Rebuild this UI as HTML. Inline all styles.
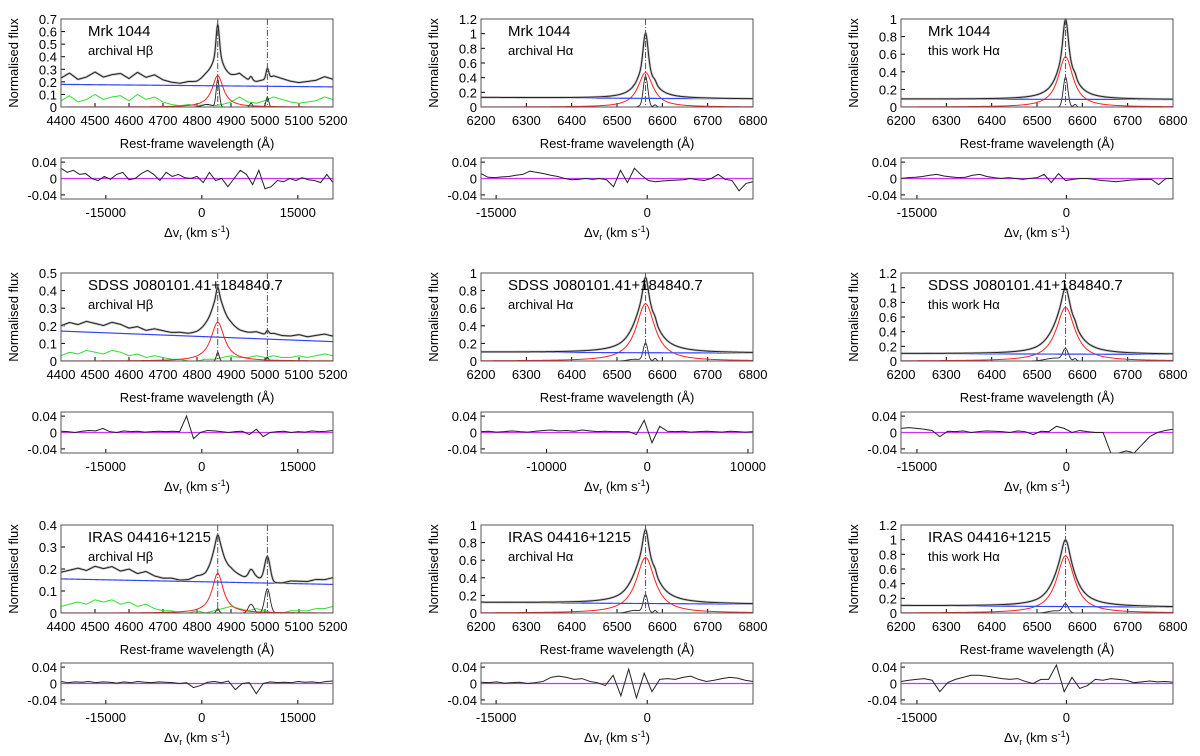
<!DOCTYPE html>
<html><head><meta charset="utf-8"><style>
body{margin:0;background:#fff;}
svg{display:block;font-family:"Liberation Sans",Arial,sans-serif;}
</style></head><body>
<svg id="fig" width="1200" height="756" viewBox="0 0 1200 756" xmlns="http://www.w3.org/2000/svg"></svg>
<script>
// ---------- data ----------
const objectNames = ["Mrk 1044","SDSS J080101.41+184840.7","IRAS 04416+1215"];
const subtitles = [["archival Hβ","archival Hα","this work Hα"],["archival Hβ","archival Hα","this work Hα"],["archival Hβ","archival Hα","this work Hα"]];
const yMaxes = [[0.7,1.2,1.0],[0.5,1.0,1.2],[0.4,1.0,1.2]];
const hbTicks = [4400,4500,4600,4700,4800,4900,5000,5100,5200];
const haTicks = [6200,6300,6400,6500,6600,6700,6800];
// continuum [start,end]
const continua = [[[0.18,0.16],[0.13,0.11],[0.09,0.085]],[[0.17,0.11],[0.10,0.09],[0.10,0.09]],[[0.155,0.13],[0.12,0.10],[0.10,0.08]]];
// broad component [center, amplitude, half-width]
const broadComps = [[[4861,0.25,20],[6563,0.47,20],[6563,0.57,20]],[[4861,0.22,24],[6563,0.65,25],[6563,0.73,25]],[[4861,0.18,20],[6563,0.63,25],[6563,0.78,24]]];
// narrow components [center, amplitude, sigma]
const narrowComps = [
 [[[4861,0.22,4.5],[5007,0.08,4],[4959,0.03,4],[4830,0.02,15]],[[6563,0.42,5],[6584,0.03,3],[6548,0.01,3]],[[6563,0.34,5],[6584,0.03,3]]],
 [[[4861,0.05,4],[5007,0.02,4]],[[6563,0.2,5],[6584,0.03,3],[6540,0.02,15]],[[6563,0.15,6],[6584,0.03,3],[6540,0.04,20]]],
 [[[4861,0.02,4],[5007,0.11,8],[4959,0.04,8]],[[6563,0.2,5],[6584,0.03,3],[6540,0.03,15]],[[6563,0.12,6],[6540,0.03,15]]]
];
const feRows = [
 [0.05,0.09,0.04,0.06,0.1,0.06,0.08,0.09,0.05,0.1,0.06,0.08,0.04,0.02,0.01,0.02,0.01,0.02,0.01,0.02,0.04,0.08,0.04,0.03,0.05,0.08,0.06,0.04,0.03,0.04,0.05,0.08,0.06],
 [0.03,0.05,0.04,0.06,0.05,0.04,0.06,0.05,0.03,0.04,0.02,0.03,0.02,0.01,0.01,0.0,0.0,0.01,0.01,0.02,0.03,0.02,0.02,0.03,0.02,0.03,0.02,0.02,0.03,0.02,0.03,0.04,0.03],
 [0.03,0.04,0.05,0.04,0.06,0.05,0.06,0.04,0.05,0.03,0.04,0.02,0.01,0.01,0.0,0.0,0.01,0.0,0.01,0.02,0.03,0.02,0.01,0.02,0.01,0.0,0.0,0.01,0.01,0.01,0.02,0.02,0.03]
];
const residRanges = [[-22000,20500],[-16500,10500],[-16600,10700]];
const residTicks = [[-15000,0,15000],[-15000,0],[-15000,0]];
const residTicksRow2Mid = [-10000,0,10000];
const residuals = [
 [[0.025,0.015,0.02,0.01,0.012,0.0,-0.005,0.005,-0.002,0.01,0.015,-0.003,0.0,0.012,0.02,0.01,-0.005,0.015,0.005,0.01,0.002,0.0,0.005,-0.01,0.015,-0.005,0.0,-0.02,0.0,0.02,0.01,-0.015,0.02,-0.025,-0.02,-0.005,-0.008,0.0,-0.005,0.002,-0.003,-0.005,-0.01,0.01,-0.01],
  [0.012,0.003,0.002,0.004,0.005,0.008,0.01,0.018,0.015,0.012,0.008,0.005,0.0,-0.003,-0.002,0,-0.002,0.0,-0.003,-0.02,0.02,-0.01,0.025,0.008,-0.005,-0.008,-0.006,-0.005,-0.004,-0.003,0.0,-0.003,-0.005,0.0,0.01,-0.002,-0.005,-0.03,-0.012,-0.008],
  [0,0.002,0.003,0.005,0.008,0.01,0.006,0.004,0.002,0.003,0.008,0.01,0.005,0.002,0.0,0.002,0.0,-0.002,0.0,0.002,0.01,-0.01,0.012,-0.005,-0.002,0.0,0.0,-0.002,-0.005,-0.006,-0.008,-0.006,-0.004,-0.003,-0.002,-0.002,-0.015,0.0,0.0]],
 [[0.003,0.002,0,0.003,0.005,0.004,0.01,0.002,0.0,0.004,0.002,0.003,0.001,0.002,0.003,0.002,0.003,0.002,0.04,-0.015,0.0,0.005,0.004,0.002,0.0,0.002,0.003,-0.005,0.008,-0.01,0.0,0.002,0.003,0.0,0.002,0.001,0.004,0.002,0.003,0.005],
  [0.002,0.003,0.001,0.002,0.004,0.002,0.001,0.003,0.005,0.006,0.004,0.005,0.003,0.006,0.004,0.002,0.003,0.002,0.002,0.002,-0.005,0.03,-0.025,0.015,0.003,0.002,0.003,0.001,0.002,0.003,0.002,0.001,0.003,0.002,0.001,0.002],
  [0.01,0.012,0.01,0.008,0.005,-0.01,0.003,0.002,0.004,0.0,0.002,0.004,0.003,0.002,0.0,0.004,0.002,-0.005,0.003,0.002,0.015,0.01,0.0,0.005,0.002,0.0,0.0,-0.06,-0.06,-0.045,-0.06,-0.03,-0.01,0.0,0.005,0.008]],
 [[0.005,0.002,0.004,0.003,0.005,0.002,0.004,0.003,0.001,0.004,0.002,0.005,0.003,0.002,0.004,0.003,0.002,0.0,0.002,-0.01,-0.005,0.003,0.005,0.002,0.006,-0.015,0.0,0.002,-0.025,0.0,0.004,0.002,0.003,0.002,0.005,0.003,0.004,0.002,0.005,0.006],
  [0.003,0.002,0.004,0.001,0.002,0.003,0.0,0.002,0.005,0.015,0.018,0.015,0.01,0.012,0.005,0.002,-0.005,0.02,-0.03,0.035,-0.035,0.025,-0.02,0.01,0.012,0.01,0.015,0.018,0.01,0.005,0.008,0.012,0.015,0.013,0.008,0.005],
  [0.005,0.008,0.01,0.012,0.008,-0.02,0.002,0.01,0.015,0.02,0.02,0.018,0.015,0.012,0.01,0.012,0.005,0.0,0.01,0.01,0.045,-0.02,0.015,-0.012,-0.005,0.01,0.008,0.012,0.01,0.008,0.002,0.004,0.006,0.004,0.005,0.003]]
];
// ---------- layout ----------
const colX = [[61,333],[481,753],[901,1173]];
const rowSpec = [[19,107,158,199],[273,361,412,453],[525,613,663,704]];
const svg = document.getElementById('fig');
const NS = 'http://www.w3.org/2000/svg';
function mk(tag, attrs, parent){const e=document.createElementNS(NS,tag);for(const k in attrs)e.setAttribute(k,attrs[k]);(parent||svg).appendChild(e);return e;}
function txt(s,x,y,size,anchor,parent){const t=mk('text',{x:x,y:y,'font-size':size,'text-anchor':anchor||'middle',fill:'#000'},parent);t.textContent=s;return t;}
function fmt(v){return (Math.round(v*100)/100).toString();}

for(let r=0;r<3;r++){for(let c=0;c<3;c++){
  const g=mk('g',{});
  
  
  const [x0,x1]=colX[c]; const [t0,b0,t1,b1]=rowSpec[r];
  const isHb=c===0; const ticks=isHb?hbTicks:haTicks;
  const xmin=ticks[0], xmax=ticks[ticks.length-1];
  const ymax=yMaxes[r][c];
  const X=v=>x0+(v-xmin)/(xmax-xmin)*(x1-x0);
  const Y=v=>b0-v/ymax*(b0-t0);
  const step = ymax<=0.7?0.1:0.2;
  for(let v=0;v<=ymax+1e-6;v+=step){
    mk('line',{x1:x0,x2:x0+4,y1:Y(v),y2:Y(v),stroke:'#000'},g);
    txt(fmt(v),x0-4,Y(v)+5,13,'end',g);
  }
  ticks.forEach(v=>{mk('line',{x1:X(v),x2:X(v),y1:b0,y2:b0-4,stroke:'#000'},g);txt(String(v),X(v),b0+18,13,'middle',g);});
  const yl=txt('Normalised flux',0,0,13,'middle',g);
  yl.setAttribute('transform','translate('+(x0-43)+','+((t0+b0)/2)+') rotate(-90)');
  
  const xl=txt('Rest-frame wavelength (Å)',(x0+x1)/2,b0+41,13,'middle',g);
  
  const cont=continua[r][c], br=broadComps[r][c], nar=narrowComps[r][c];
  const fe=isHb?feRows[r]:null;
  const N=500; const pts={tot:[],cont:[],br:[],nar:[],fe:[]};
  for(let i=0;i<=N;i++){
    const x=xmin+(xmax-xmin)*i/N;
    const cv=cont[0]+(cont[1]-cont[0])*(x-xmin)/(xmax-xmin);
    const bv=br[1]/(1+Math.pow((x-br[0])/br[2],2));
    let nv=0; nar.forEach(n=>{nv+=n[1]*Math.exp(-0.5*Math.pow((x-n[0])/n[2],2));});
    let fv=0; if(fe){const p=(x-xmin)/(xmax-xmin)*(fe.length-1);const k=Math.min(Math.floor(p),fe.length-2);fv=fe[k]+(fe[k+1]-fe[k])*(p-k);}
    const tv=cv+bv+nv+fv;
    pts.tot.push(X(x)+','+Y(tv));pts.cont.push(X(x)+','+Y(cv));pts.br.push(X(x)+','+Y(bv));
    pts.nar.push(X(x)+','+Y(nv));pts.fe.push(X(x)+','+Y(fv));
  }
  const lines=[['fe','#33dd33',1,'fe-ii-template'],['nar','#222',0.9,'narrow-components'],['br','#ff2020',1,'broad-component'],['cont','#3344ff',1.2,'continuum'],['tot','#c4c4c4',2.4,'observed-spectrum'],['tot','#222',1,'total-model']];
  lines.forEach(L=>{ if(L[0]==='fe'&&!fe)return;
    const p=mk('polyline',{points:pts[L[0]].join(' '),fill:'none',stroke:L[1],'stroke-width':L[2]},g);
    });
  const marks=isHb?[4861,5007]:[6563];
  marks.forEach(m=>{const d=mk('line',{x1:X(m),x2:X(m),y1:t0,y2:b0,stroke:'#555','stroke-width':1,'stroke-dasharray':'6,2,1,2'},g);
    });
  const box=mk('rect',{x:x0,y:t0,width:x1-x0,height:b0-t0,fill:'none',stroke:'#555'},g);
  
  const tt=txt(objectNames[r],x0+27,t0+17,15,'start',g);
  
  const st=txt(subtitles[r][c],x0+27,t0+36,13,'start',g);
  
  const [vmin,vmax]=residRanges[c];
  const VX=v=>x0+(v-vmin)/(vmax-vmin)*(x1-x0);
  const VY=v=>t1+(0.05-v)/0.1*(b1-t1);
  [0.04,0,-0.04].forEach(v=>{mk('line',{x1:x0,x2:x0+4,y1:VY(v),y2:VY(v),stroke:'#000'},g);txt(String(v),x0-4,VY(v)+5,13,'end',g);});
  const rt=(r===1&&c===1)?residTicksRow2Mid:residTicks[c];
  rt.forEach(v=>{mk('line',{x1:VX(v),x2:VX(v),y1:b1,y2:b1-4,stroke:'#000'},g);txt(String(v),VX(v),b1+18,13,'middle',g);});
  const zl=mk('line',{x1:x0,x2:x1,y1:VY(0),y2:VY(0),stroke:'#cc33ff','stroke-width':1.2},g);
  
  const res=residuals[r][c];
  const rp=res.map((v,i)=>VX(vmin+(vmax-vmin)*i/(res.length-1))+','+VY(Math.max(-0.05,Math.min(0.05,v))));
  const rl=mk('polyline',{points:rp.join(' '),fill:'none',stroke:'#222','stroke-width':1},g);
  
  const rb=mk('rect',{x:x0,y:t1,width:x1-x0,height:b1-t1,fill:'none',stroke:'#555'},g);
  
  const vl=mk('text',{x:(x0+x1)/2,y:b1+38,'font-size':13,'text-anchor':'middle'},g);
  vl.innerHTML='Δv<tspan font-size="9" dy="3">r</tspan><tspan dy="-3"> (km s</tspan><tspan font-size="9" dy="-5">-1</tspan><tspan dy="5">)</tspan>';
  
}}
</script>
</body></html>
